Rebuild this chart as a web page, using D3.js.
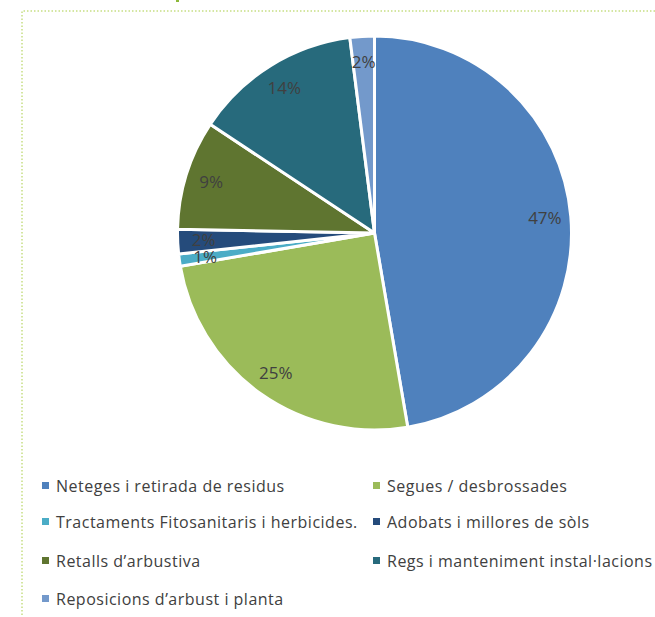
<!DOCTYPE html>
<html>
<head>
<meta charset="utf-8">
<script src="https://cdn.jsdelivr.net/npm/d3@7"></script>
<style>
  body { margin: 0; background: #fff; }
  text { font-family: "Open Sans", Lato, sans-serif; }
</style>
</head>
<body>
<div id="chart"></div>
<script>
// data
const categories = [
  "Neteges i retirada de residus",
  "Segues / desbrossades",
  "Tractaments Fitosanitaris i herbicides.",
  "Adobats i millores de sòls",
  "Retalls d\u2019arbustiva",
  "Regs i manteniment instal\u00B7lacions",
  "Reposicions d\u2019arbust i planta"
];
const values = [47.3, 25, 1, 2, 9, 13.7, 2];
const labels = ["47%", "25%", "1%", "2%", "9%", "14%", "2%"];
const colors = ["#4F81BD", "#9BBB59", "#4BACC6", "#254B7B", "#5F7530", "#276A7C", "#7399CB"];

const width = 655, height = 617;
const cx = 374.5, cy = 233, radius = 197;

const svg = d3.select("#chart")
  .append("svg")
    .attr("width", width)
    .attr("height", height);

// dotted frame
svg.append("path")
  .attr("d", `M22,${height + 5} L22,11 L${width + 5},11`)
  .attr("fill", "none")
  .attr("stroke", "#A9CD45")
  .attr("stroke-width", 1)
  .attr("stroke-dasharray", "1.5,2");

svg.append("rect")
  .attr("x", 176).attr("y", 0).attr("width", 3).attr("height", 2)
  .attr("fill", "#8DB83A");

const pie = d3.pie().sort(null).value(d => d);
const arcs = pie(values);
const arc = d3.arc().innerRadius(0).outerRadius(radius);
const labelArc = d3.arc().innerRadius(171).outerRadius(171);

const g = svg.append("g")
  .attr("transform", `translate(${cx}, ${cy})`);

g.selectAll("path.slice")
  .data(arcs)
  .enter()
  .append("path")
    .attr("class", "slice")
    .attr("d", arc)
    .attr("fill", (d, i) => colors[i])
    .attr("stroke", "#fff")
    .attr("stroke-width", 3)
    .attr("stroke-linejoin", "round");

g.selectAll("text.lbl")
  .data(arcs)
  .enter()
  .append("text")
    .attr("class", "lbl")
    .attr("transform", d => `translate(${labelArc.centroid(d)})`)
    .attr("text-anchor", "middle")
    .attr("dy", "0.35em")
    .style("font-size", "17px")
    .style("fill", "#404040")
    .text((d, i) => labels[i]);

// legend
const legend = svg.append("g");
const colX = [42, 373];
const rowY = [486, 522, 561, 599];

const item = legend.selectAll("g.item")
  .data(categories)
  .enter()
  .append("g")
    .attr("class", "item")
    .attr("transform", (d, i) => `translate(${colX[i % 2]}, ${rowY[Math.floor(i / 2)]})`);

item.append("rect")
  .attr("x", 0).attr("y", -4)
  .attr("width", 7).attr("height", 7)
  .attr("fill", (d, i) => colors[i]);

item.append("text")
  .attr("x", 14)
  .attr("dy", "0.35em")
  .style("font-size", "16px")
  .style("letter-spacing", "0.5px")
  .style("fill", "#404040")
  .text(d => d);
</script>
</body>
</html>
